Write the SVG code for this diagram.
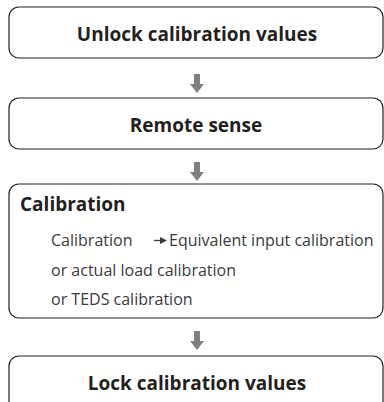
<svg xmlns="http://www.w3.org/2000/svg" width="384" height="402" viewBox="0 0 384 402">
<style>
.box{fill:#fff;stroke:#231f20;stroke-width:1.2}
.h{font-family:"Open Sans","Noto Sans",sans-serif;font-weight:bold;font-size:19px;fill:#231f20}
.t{font-family:"Open Sans","Noto Sans",sans-serif;font-size:16px;fill:#3a3a3a}
.arr{fill:#808080}
</style>
<defs>
<path id="down" d="M-3,0 H3 V10 H7 L0,19 L-7,10 H-3 Z"/>
</defs>
<rect width="384" height="402" fill="#fff"/>
<g id="n1">
<rect class="box" x="9" y="7" width="374" height="51" rx="10"/>
<text class="h" x="197" y="41" text-anchor="middle">Unlock calibration values</text>
</g>
<g id="n2">
<rect class="box" x="9" y="98" width="374" height="51" rx="10"/>
<text class="h" x="196" y="132" text-anchor="middle">Remote sense</text>
</g>
<g id="n3">
<rect class="box" x="9" y="184" width="374" height="134" rx="10"/>
<text class="h" x="20" y="211">Calibration</text>
<text class="t" x="51" y="246">Calibration</text>
<line x1="154" y1="240.5" x2="162" y2="240.5" stroke="#3a3a3a" stroke-width="1.3"/>
<polygon points="160,237 167,240.5 160,244" fill="#3a3a3a"/>
<text class="t" x="169" y="246">Equivalent input calibration</text>
<text class="t" x="51" y="276">or actual load calibration</text>
<text class="t" x="51" y="305">or TEDS calibration</text>
</g>
<g id="n4">
<rect class="box" x="9" y="356" width="374" height="60" rx="10"/>
<text class="h" x="197" y="390" text-anchor="middle">Lock calibration values</text>
</g>
<g id="connectors">
<use href="#down" class="arr" x="197" y="74"/>
<use href="#down" class="arr" x="197" y="162"/>
<use href="#down" class="arr" x="197" y="331"/>
</g>
</svg>
